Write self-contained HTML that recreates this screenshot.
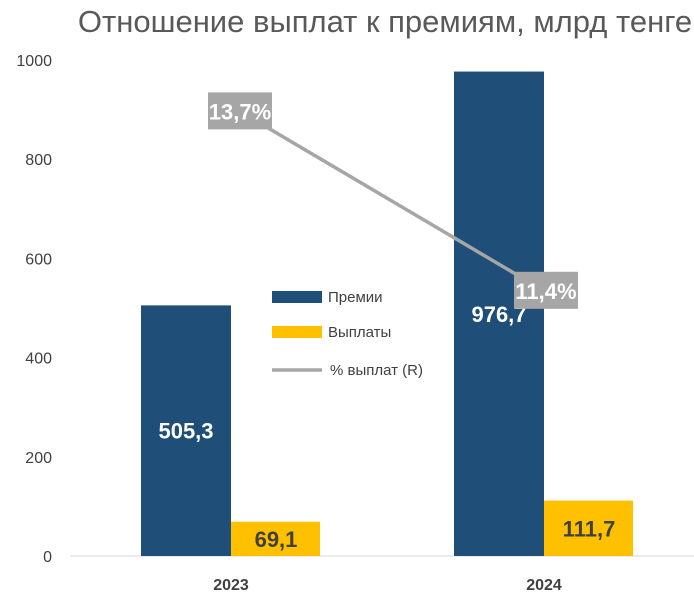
<!DOCTYPE html>
<html><head><meta charset="utf-8"><style>
html,body{margin:0;padding:0;background:#fff;}
svg{display:block;font-family:"Liberation Sans Narrow","Liberation Sans",sans-serif;}
</style></head><body>
<svg id="chart" width="694" height="613" viewBox="0 0 694 613">
<text x="385" y="32" text-anchor="middle" font-size="31" fill="#595959">Отношение выплат к премиям, млрд тенге</text>
<g id="yaxis"></g>
<line x1="70" y1="556" x2="694" y2="556" stroke="#d9d9d9" stroke-width="1"/>
<g id="bars"></g>
<g id="line"></g>
<g>
<g><rect x="272" y="291" width="50" height="12" fill="#1F4E79"/><text x="328" y="302" font-size="15" fill="#404040">Премии</text></g>
<g><rect x="272" y="326" width="50" height="12" fill="#FFC000"/><text x="328" y="337" font-size="15" fill="#404040">Выплаты</text></g>
<g><line x1="272" y1="370" x2="322" y2="370" stroke="#A6A6A6" stroke-width="3.5"/><text x="330" y="375" font-size="15" fill="#404040">%  выплат (R)</text></g>
</g>
</svg>
<script>
const categories=["2023","2024"];
const premiums=[505.3,976.7];
const payouts=[69.1,111.7];
const ratio=[13.7,11.4];
const yTicks=[0,200,400,600,800,1000];
const NS="http://www.w3.org/2000/svg";
function y(v){return 556-v*0.496;}
function xc(i){return 231+i*313;}
function yR(v){return 88+(14-v)*78;}
function mk(tag,attrs,parent,txt){const e=document.createElementNS(NS,tag);for(const k in attrs)e.setAttribute(k,attrs[k]);if(txt!==undefined)e.textContent=txt;parent.appendChild(e);return e;}
const ya=document.getElementById('yaxis');
yTicks.forEach(t=>{const e=mk('text',{x:52,y:y(t)+6,'text-anchor':'end','font-size':16,fill:'#404040'},ya,String(t));

});
const bg=document.getElementById('bars');
const fmt=v=>v.toFixed(1).replace('.',',');
categories.forEach((c,i)=>{
 const x=xc(i);
 let r=mk('rect',{x:x-90,y:y(premiums[i]),width:90,height:556-y(premiums[i]),fill:'#1F4E79'},bg);
 
 
 let t=mk('text',{x:x-45,y:(y(premiums[i])+556)/2+8,'text-anchor':'middle','font-size':22,'font-weight':'bold',fill:'#fff'},bg,fmt(premiums[i]));
 
 
 r=mk('rect',{x:x,y:y(payouts[i]),width:89,height:556-y(payouts[i]),fill:'#FFC000'},bg);
 
 
 t=mk('text',{x:x+45,y:(y(payouts[i])+556)/2+8,'text-anchor':'middle','font-size':22,'font-weight':'bold',fill:'#404040'},bg,fmt(payouts[i]));
 
 
 t=mk('text',{x:x,y:590,'text-anchor':'middle','font-size':16,'font-weight':'bold',fill:'#404040'},bg,c);
 
 
});
const lg=document.getElementById('line');
const pts=ratio.map((v,i)=>(i===0?xc(i)+9:xc(i))+','+yR(v)).join(' ');
const pl=mk('polyline',{points:pts,fill:'none',stroke:'#A6A6A6','stroke-width':3.5},lg);


ratio.forEach((v,i)=>{
 const cx=i===0?xc(i)+9:xc(i)+2, cy=yR(v);
 const g=mk('g',{},lg);
 
 
 mk('rect',{x:cx-32,y:cy-19,width:64,height:37,fill:'#A6A6A6'},g);
 mk('text',{x:cx,y:cy+8,'text-anchor':'middle','font-size':22,'font-weight':'bold',fill:'#fff'},g,v.toFixed(1).replace('.',',')+'%');
});
</script>
</body></html>
